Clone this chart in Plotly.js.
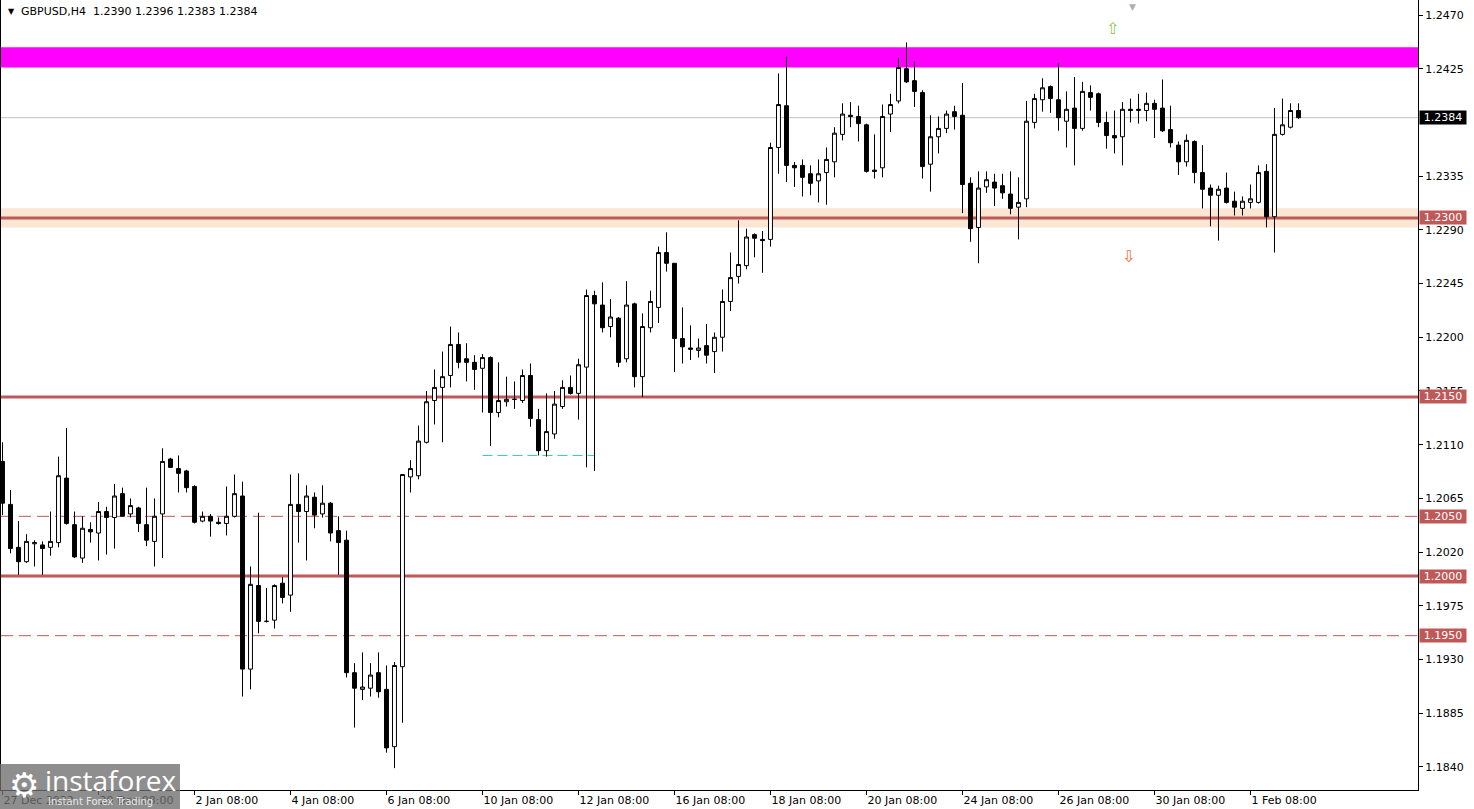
<!DOCTYPE html>
<html>
<head>
<meta charset="utf-8">
<script src="https://cdn.plot.ly/plotly-3.0.1.min.js"></script>
<style>html,body{margin:0;padding:0;background:#fff;}#chart{width:1474px;height:809px;}</style>
</head>
<body>
<div id="chart"></div>
<script>
// GBPUSD H4 candles (O,H,L,C)
const opens = [1.2096,1.2060,1.2024,1.2012,1.2027,1.2026,1.2024,1.2028,1.2082,1.2043,1.2015,1.2039,1.2036,1.2054,1.2049,1.2069,1.2052,1.2057,1.2043,1.2029,
1.2052,1.2098,1.2090,1.2088,1.2075,1.2046,1.2050,1.2045,1.2044,1.2050,1.2067,1.1922,1.1992,1.1962,1.1963,1.1994,1.1984,1.2060,1.2054,1.2066,
1.2052,1.2061,1.2038,1.2030,1.1919,1.1905,1.1906,1.1919,1.1905,1.1857,1.1924,1.2083,1.2084,1.2112,1.2147,1.2158,1.2168,1.2194,1.2182,1.2179,
1.2174,1.2183,1.2137,1.2146,1.2148,1.2147,1.2168,1.2131,1.2105,1.2119,1.2142,1.2158,1.2153,1.2175,1.2235,1.2227,1.2209,1.2216,1.2182,1.2228,
1.2167,1.2208,1.2225,1.2271,1.2262,1.2199,1.2191,1.2189,1.2193,1.2188,1.2200,1.2230,1.2251,1.2260,1.2286,1.2282,1.2282,1.2359,1.2394,1.2344,
1.2344,1.2337,1.2331,1.2338,1.2347,1.2370,1.2386,1.2385,1.2378,1.2340,1.2342,1.2387,1.2398,1.2425,1.2415,1.2405,1.2345,1.2368,1.2375,1.2389,
1.2386,1.2329,1.2292,1.2326,1.2330,1.2327,1.2320,1.2309,1.2316,1.2380,1.2399,1.2410,1.2399,1.2381,1.2392,1.2375,1.2405,1.2404,1.2380,1.2369,
1.2368,1.2391,1.2390,1.2390,1.2396,1.2392,1.2374,1.2361,1.2347,1.2364,1.2338,1.2325,1.2319,1.2325,1.2314,1.2308,1.2313,1.2313,1.2339,1.2301,
1.2370,1.2376,1.2390];
const highs = [1.2112,1.2072,1.2046,1.2035,1.2030,1.2029,1.2054,1.2100,1.2124,1.2054,1.2050,1.2045,1.2062,1.2058,1.2077,1.2074,1.2065,1.2058,1.2074,1.2065,
1.2107,1.2099,1.2101,1.2089,1.2076,1.2054,1.2052,1.2049,1.2075,1.2085,1.2079,1.2008,1.2053,1.1990,1.1993,1.1999,1.2085,1.2086,1.2076,1.2070,
1.2076,1.2062,1.2050,1.2038,1.1927,1.1936,1.1927,1.1936,1.1925,1.1928,1.2085,1.2097,1.2126,1.2155,1.2173,1.2188,1.2209,1.2204,1.2195,1.2185,
1.2186,1.2184,1.2179,1.2167,1.2163,1.2173,1.2178,1.2140,1.2153,1.2155,1.2164,1.2168,1.2182,1.2240,1.2239,1.2246,1.2232,1.2217,1.2247,1.2229,
1.2220,1.2239,1.2276,1.2288,1.2262,1.2225,1.2210,1.2199,1.2211,1.2204,1.2240,1.2271,1.2298,1.2291,1.2287,1.2289,1.2363,1.2421,1.2435,1.2347,
1.2349,1.2344,1.2349,1.2359,1.2376,1.2396,1.2397,1.2394,1.2379,1.2370,1.2395,1.2404,1.2434,1.2447,1.2431,1.2407,1.2386,1.2385,1.2390,1.2394,
1.2413,1.2334,1.2339,1.2339,1.2337,1.2337,1.2339,1.2334,1.2398,1.2404,1.2417,1.2411,1.2430,1.2406,1.2418,1.2414,1.2411,1.2405,1.2389,1.2390,
1.2397,1.2400,1.2404,1.2405,1.2399,1.2416,1.2394,1.2364,1.2370,1.2365,1.2361,1.2328,1.2327,1.2338,1.2322,1.2318,1.2328,1.2344,1.2345,1.2392,
1.2400,1.2396,1.2396];
const lows = [1.2051,1.2019,1.2001,1.2011,1.2008,1.2001,1.2017,1.2024,1.2043,1.2015,1.2011,1.2028,1.2013,1.2018,1.2023,1.2050,1.2049,1.2037,1.2025,1.2008,
1.2015,1.2091,1.2070,1.2070,1.2044,1.2045,1.2033,1.2043,1.2034,1.2049,1.1899,1.1905,1.1952,1.1961,1.1956,1.1977,1.1970,1.2028,1.2013,1.2040,
1.2049,1.2029,1.2001,1.1915,1.1873,1.1896,1.1899,1.1898,1.1852,1.1839,1.1877,1.2070,1.2081,1.2111,1.2127,1.2112,1.2158,1.2174,1.2163,1.2156,
1.2137,1.2109,1.2133,1.2142,1.2140,1.2145,1.2125,1.2101,1.2100,1.2115,1.2140,1.2152,1.2131,1.2091,1.2088,1.2204,1.2200,1.2175,1.2179,1.2158,
1.2150,1.2204,1.2212,1.2255,1.2171,1.2178,1.2181,1.2183,1.2178,1.2170,1.2188,1.2222,1.2245,1.2257,1.2267,1.2254,1.2276,1.2337,1.2330,1.2326,
1.2318,1.2319,1.2313,1.2311,1.2334,1.2365,1.2376,1.2364,1.2338,1.2333,1.2334,1.2372,1.2396,1.2413,1.2393,1.2333,1.2322,1.2354,1.2371,1.2374,
1.2304,1.2280,1.2262,1.2321,1.2310,1.2316,1.2303,1.2282,1.2309,1.2375,1.2389,1.2388,1.2373,1.2359,1.2344,1.2373,1.2390,1.2376,1.2358,1.2354,
1.2344,1.2380,1.2379,1.2381,1.2367,1.2372,1.2359,1.2336,1.2343,1.2329,1.2308,1.2293,1.2281,1.2312,1.2302,1.2302,1.2308,1.2312,1.2292,1.2271,
1.2369,1.2375,1.2383];
const closes = [1.2061,1.2023,1.2012,1.2029,1.2028,1.2023,1.2029,1.2084,1.2044,1.2016,1.2040,1.2037,1.2054,1.2049,1.2067,1.2050,1.2059,1.2044,1.2030,1.2050,
1.2096,1.2091,1.2086,1.2074,1.2045,1.2050,1.2046,1.2044,1.2050,1.2069,1.1922,1.1993,1.1962,1.1962,1.1992,1.1982,1.2060,1.2054,1.2067,1.2051,
1.2061,1.2036,1.2028,1.1919,1.1906,1.1907,1.1917,1.1903,1.1856,1.1925,1.2085,1.2090,1.2113,1.2146,1.2158,1.2167,1.2194,1.2179,1.2179,1.2173,
1.2183,1.2137,1.2147,1.2148,1.2148,1.2168,1.2132,1.2105,1.2121,1.2144,1.2158,1.2153,1.2177,1.2235,1.2228,1.2208,1.2217,1.2179,1.2227,1.2167,
1.2209,1.2230,1.2271,1.2262,1.2199,1.2192,1.2190,1.2191,1.2185,1.2200,1.2230,1.2250,1.2261,1.2284,1.2283,1.2281,1.2359,1.2395,1.2344,1.2342,
1.2334,1.2329,1.2337,1.2349,1.2371,1.2387,1.2385,1.2379,1.2339,1.2339,1.2385,1.2395,1.2426,1.2414,1.2406,1.2343,1.2368,1.2375,1.2387,1.2385,
1.2328,1.2291,1.2325,1.2332,1.2325,1.2321,1.2308,1.2313,1.2381,1.2400,1.2409,1.2400,1.2384,1.2391,1.2375,1.2406,1.2401,1.2380,1.2369,1.2367,
1.2391,1.2390,1.2391,1.2396,1.2391,1.2373,1.2363,1.2347,1.2365,1.2338,1.2324,1.2319,1.2324,1.2313,1.2309,1.2314,1.2316,1.2338,1.2301,1.2370,
1.2378,1.2390,1.2384];

// time-axis labels (bar index -> text)
const tickIdx  = [0,12,24,36,48,60,72,84,96,108,120,132,144,156];
const tickText = ["27 Dec 2022","29 Dec 08:00","2 Jan 08:00","4 Jan 08:00","6 Jan 08:00","10 Jan 08:00","12 Jan 08:00","16 Jan 08:00","18 Jan 08:00","20 Jan 08:00","24 Jan 08:00","26 Jan 08:00","30 Jan 08:00","1 Feb 08:00"];

// price scale labels (1.2380 is hidden under the last-price box in the reference)
const priceTicks = [1.2470,1.2425,1.2335,1.2290,1.2245,1.2200,1.2155,1.2110,1.2065,1.2020,1.1975,1.1930,1.1885,1.1840];

// horizontal levels
const solidLevels  = [1.2300,1.2150,1.2000];
const dashedLevels = [1.2050,1.1950];
const resistanceZone = [1.2426,1.2443];
const supportZone    = [1.2292,1.2308];
const lastPrice = 1.2384;
const flatLevel = 1.2101;        // short teal dashed level
const flatRange = [60,74];       // bar span of the teal level
const header = "GBPUSD,H4  1.2390 1.2396 1.2383 1.2384";

const LVL = 'rgb(192,88,88)';
const bars = opens.map((_, i) => i);

const trace = {
  type: 'candlestick',
  x: bars, open: opens, high: highs, low: lows, close: closes,
  increasing: {line: {color: '#000', width: 1}, fillcolor: '#fff'},
  decreasing: {line: {color: '#000', width: 1}, fillcolor: '#000'},
  whiskerwidth: 0,
  hoverinfo: 'skip'
};

const shapes = [];
shapes.push({type:'rect', xref:'paper', x0:0, x1:1, yref:'y', y0:resistanceZone[0], y1:resistanceZone[1], fillcolor:'#ff00ff', line:{width:0}, layer:'below'});
shapes.push({type:'rect', xref:'paper', x0:0, x1:1, yref:'y', y0:supportZone[0], y1:supportZone[1], fillcolor:'#fbe6d3', line:{width:0}, layer:'below'});
shapes.push({type:'line', xref:'paper', x0:0, x1:1, yref:'y', y0:lastPrice, y1:lastPrice, line:{color:'#c0c0c0', width:1}, layer:'below'});
solidLevels.forEach(v => shapes.push({type:'line', xref:'paper', x0:0, x1:1, yref:'y', y0:v, y1:v, line:{color:LVL, width:3}, layer:'below'}));
dashedLevels.forEach(v => shapes.push({type:'line', xref:'paper', x0:0, x1:1, yref:'y', y0:v, y1:v, line:{color:LVL, width:1, dash:'12px,6px'}, layer:'below'}));
shapes.push({type:'line', xref:'x', x0:flatRange[0], x1:flatRange[1], yref:'y', y0:flatLevel, y1:flatLevel, line:{color:'rgb(60,200,165)', width:1, dash:'10px,5px'}, layer:'below'});
// logo panel
shapes.push({type:'rect', xref:'paper', yref:'paper', x0:-0.001, x1:0.1263, y0:-0.025, y1:0.033, fillcolor:'rgba(110,110,110,0.78)', line:{width:0}, layer:'above'});

const annotations = [];
const lab = (v, bg) => ({xref:'paper', x:1, xanchor:'left', xshift:1, yref:'y', y:v, yanchor:'middle', text:v.toFixed(4),
  showarrow:false, bgcolor:bg, font:{family:'DejaVu Sans', size:11, color:'#fff'}, width:46, height:13, borderpad:0, align:'center'});
solidLevels.forEach(v => annotations.push(lab(v, LVL)));
dashedLevels.forEach(v => annotations.push(lab(v, LVL)));
annotations.push(lab(lastPrice, '#000'));
annotations.push({xref:'paper', yref:'paper', x:0.0035, y:0.985, xanchor:'left', yanchor:'middle', text:'▼', showarrow:false, font:{family:'DejaVu Sans', size:8, color:'#000'}});
annotations.push({xref:'paper', yref:'paper', x:0.0127, y:0.985, xanchor:'left', yanchor:'middle', text:header, showarrow:false, font:{family:'DejaVu Sans', size:11, color:'#000'}});
annotations.push({xref:'x', yref:'y', x:138.8, y:1.2459, text:'⇧', showarrow:false, font:{family:'DejaVu Sans', size:16, color:'#8cc63f'}});
annotations.push({xref:'x', yref:'y', x:140.7, y:1.2268, text:'⇩', showarrow:false, font:{family:'DejaVu Sans', size:16, color:'#f26b3a'}});
annotations.push({xref:'x', yref:'paper', x:141.3, y:1.0, yanchor:'top', text:'▼', showarrow:false, font:{family:'DejaVu Sans', size:9, color:'#b0b0b0'}});
// logo text
annotations.push({xref:'paper', yref:'paper', x:0.004, y:0.006, xanchor:'left', yanchor:'middle', text:'⚙', showarrow:false, font:{family:'DejaVu Sans', size:34, color:'#fff'}});
annotations.push({xref:'paper', yref:'paper', x:0.0295, y:0.013, xanchor:'left', yanchor:'middle', text:'instaforex', showarrow:false, font:{family:'Open Sans', size:28, color:'#fff'}});
annotations.push({xref:'paper', yref:'paper', x:0.032, y:-0.014, xanchor:'left', yanchor:'middle', text:'Instant Forex Trading', showarrow:false, font:{family:'DejaVu Sans', size:10, color:'#e8e8e8'}});

const layout = {
  width: 1474, height: 809,
  margin: {l:1, r:56, t:0, b:19, pad:0},
  paper_bgcolor:'#fff', plot_bgcolor:'#fff',
  showlegend:false,
  xaxis: {type:'linear', range:[-0.1875, 176.94], tickvals:tickIdx, ticktext:tickText, ticks:'outside', ticklen:4, tickcolor:'#000',
    ticklabelposition:'outside right', tickfont:{family:'DejaVu Sans', size:11, color:'#000'},
    showline:true, linecolor:'#000', linewidth:1, mirror:true, showgrid:false, zeroline:false, rangeslider:{visible:false}, fixedrange:true},
  yaxis: {side:'right', range:[1.182071, 1.248257], tickvals:priceTicks, ticktext:priceTicks.map(v=>v.toFixed(4)), ticks:'outside', ticklen:4, tickcolor:'#000',
    tickfont:{family:'DejaVu Sans', size:11, color:'#000'}, showline:true, linecolor:'#000', linewidth:1, mirror:true, showgrid:false, zeroline:false, fixedrange:true},
  shapes: shapes,
  annotations: annotations
};

Plotly.newPlot('chart', [trace], layout, {displayModeBar:false, staticPlot:true});
</script>
</body>
</html>
